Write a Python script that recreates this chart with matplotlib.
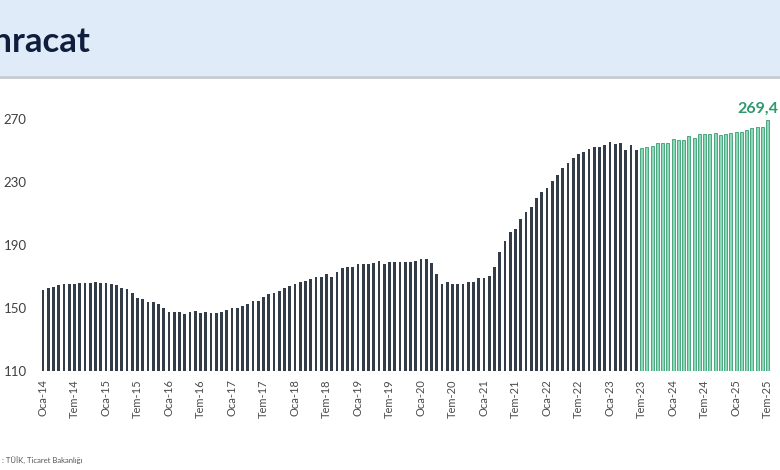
import matplotlib.pyplot as plt
from matplotlib.patches import Rectangle
from matplotlib.lines import Line2D

plt.rcParams['font.family'] = ['Lato', 'DejaVu Sans']

# 12-month rolling exports (billion USD), Jan 2014 - Jul 2025
months_tr = ['Oca', 'Şub', 'Mar', 'Nis', 'May', 'Haz',
             'Tem', 'Ağu', 'Eyl', 'Eki', 'Kas', 'Ara']
values = [
    161.5, 162.6, 163.6, 164.7, 165.1, 165.1, 165.3, 165.8, 165.8, 166.2, 166.8, 165.8,  # 2014
    165.8, 165.3, 164.7, 162.6, 161.9, 159.4, 156.5, 155.6, 153.7, 153.7, 152.6, 150.3,  # 2015
    147.7, 147.7, 147.7, 146.0, 147.3, 148.3, 146.7, 147.3, 147.1, 146.7, 147.7, 148.5,  # 2016
    150.2, 150.2, 151.5, 152.6, 154.5, 154.5, 157.2, 158.8, 159.8, 161.0, 162.6, 164.0,  # 2017
    165.3, 166.4, 167.4, 168.5, 169.6, 169.6, 171.7, 169.9, 173.1, 175.3, 176.3, 176.3,  # 2018
    177.8, 177.8, 177.8, 178.5, 179.9, 177.8, 179.3, 179.5, 179.5, 179.5, 179.3, 179.9,  # 2019
    181.2, 181.2, 178.5, 171.7, 165.1, 166.8, 165.5, 165.1, 165.1, 166.5, 166.5, 168.9,  # 2020
    168.9, 170.6, 176.3, 185.9, 192.6, 198.6, 200.1, 206.4, 211.3, 214.4, 219.8, 224.0,  # 2021
    226.5, 231.0, 234.6, 238.8, 242.0, 245.2, 247.7, 249.4, 251.1, 252.2, 252.6, 253.7,  # 2022
    255.4, 254.3, 254.7, 250.5, 253.7, 250.5, 252.0, 252.2, 253.0, 254.7, 255.1, 255.1,  # 2023
    257.5, 256.9, 256.9, 259.4, 257.9, 260.5, 260.5, 260.5, 261.1, 260.0, 260.7, 261.1,  # 2024
    261.7, 262.1, 263.2, 264.3, 265.3, 265.3, 269.4,                                     # 2025
]
start_year = 14
green_from = 114  # Tem-23 onward drawn green
y_ticks = [110, 150, 190, 230, 270]

labels = []
for i in range(len(values)):
    labels.append(f"{months_tr[i % 12]}-{start_year + i // 12}")

x = list(range(len(values)))
x_dark = x[:green_from]
x_green = x[green_from:]

fig = plt.figure(figsize=(7.8, 4.7), dpi=100)

# header band
fig.patches.append(Rectangle((0, 0.838), 1, 0.162, transform=fig.transFigure,
                             facecolor='#e0ebf9', edgecolor='none', zorder=0))
fig.lines.append(Line2D([0, 1], [0.836, 0.836], transform=fig.transFigure,
                        color='#c5cad2', linewidth=2))
fig.text(-18 / 780, 1 - 42 / 470, 'İhracat', fontsize=25, fontweight='bold',
         color='#0f1e3d', va='center', ha='left')

ax = fig.add_axes([0.0511, 0.2106, 0.937, 0.569])
ax.bar(x_dark, values[:green_from], width=0.5, color='#333d48', linewidth=0)
ax.bar(x_green, values[green_from:], width=0.55, color='#8ad9b7',
       edgecolor='#3a9c72', linewidth=0.6)
ax.set_xlim(-0.6, len(values) - 0.4)
ax.set_ylim(110, 280)
ax.set_yticks(y_ticks)
ax.tick_params(axis='y', length=0, pad=9.5, labelsize=9.5, labelcolor='#404040')

tick_pos = [i for i in x if i % 6 == 0]
ax.set_xticks(tick_pos)
ax.set_xticklabels([labels[i] for i in tick_pos], rotation=90)
ax.tick_params(axis='x', length=0, pad=6, labelsize=8, labelcolor='#4a4a4a')

for s in ax.spines.values():
    s.set_visible(False)

ax.annotate(f"{values[-1]:.1f}".replace('.', ','), xy=(x[-1], values[-1]),
            xytext=(8, 3), textcoords='offset points', ha='right', va='bottom',
            fontsize=11.5, fontweight='bold', color='#2e9a6c')

fig.text(2 / 780, 1 - 461 / 470, ': TÜİK, Ticaret Bakanlığı', fontsize=5.5,
         color='#555555', va='center', ha='left')

fig.savefig('out.png', dpi=100)
